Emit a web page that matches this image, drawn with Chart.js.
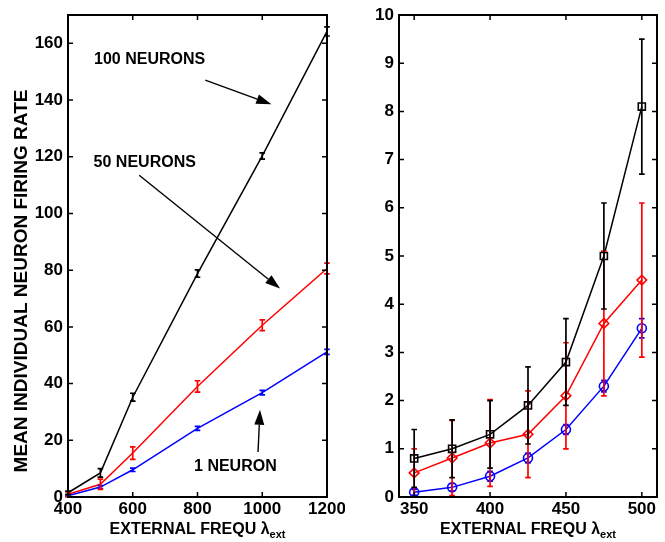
<!DOCTYPE html>
<html>
<head>
<meta charset="utf-8">
<script src="https://cdn.jsdelivr.net/npm/chart.js@4/dist/chart.umd.min.js"></script>
<style>
  html, body { margin: 0; padding: 0; background: #fff; }
  #wrap { position: relative; width: 665px; height: 542px; }
  canvas { position: absolute; top: 0; }
</style>
</head>
<body>
<div id="wrap">
  <canvas id="wideChart" width="345" height="542" style="left:0"></canvas>
  <canvas id="lowChart" width="320" height="542" style="left:345px"></canvas>
</div>
<script>
// Left panel: firing rate over the full frequency range
const freqWide = [400, 500, 600, 800, 1000, 1200];
const rate100 = [1.5, 8.5, 35.2, 78.8, 120.3, 164.2];
const err100 = [0.6, 1.5, 1.4, 1.3, 1.1, 1.6];
const rate50 = [1.0, 4.5, 15.5, 39.0, 60.6, 80.6];
const err50 = [0.8, 1.8, 2.2, 2.0, 1.9, 1.9];
const rate1 = [0.4, 3.5, 9.6, 24.2, 36.8, 51.2];
const err1 = [0.3, 0.5, 0.6, 0.7, 0.8, 0.9];
const xTicksWide = [400, 600, 800, 1000, 1200];
const yTicksWide = [0, 20, 40, 60, 80, 100, 120, 140, 160];

// Right panel: zoom on the low frequency end
const freqLow = [350, 375, 400, 425, 450, 475, 500];
const low100 = [0.8, 1.0, 1.3, 1.9, 2.8, 5.0, 8.1];
const lowErr100 = [0.6, 0.6, 0.7, 0.8, 0.9, 1.1, 1.4];
const low50 = [0.5, 0.81, 1.12, 1.3, 2.1, 3.6, 4.5];
const lowErr50 = [0.5, 0.78, 0.9, 0.9, 1.1, 1.5, 1.6];
const low1 = [0.1, 0.2, 0.43, 0.81, 1.4, 2.3, 3.5];
const lowErr1 = [0.06, 0.08, 0.1, 0.1, 0.1, 0.12, 0.2];
const xTicksLow = [350, 400, 450, 500];
const yTicksLow = [0, 1, 2, 3, 4, 5, 6, 7, 8, 9, 10];

const seriesNames = ['100 NEURONS', '50 NEURONS', '1 NEURON'];

// text labels with arrows, placed in data units of the left panel
const notes = [
  { text: seriesNames[0], at: [652, 154.4], from: [824, 147.0], to: [1028, 138.5] },
  { text: seriesNames[1], at: [637, 117.9], from: [620, 113.5], to: [1055, 73.5] },
  { text: seriesNames[2], at: [917, 10.8], from: [987, 15.9], to: [993, 30.8] }
];

const FONT = '"Liberation Sans", Arial, Helvetica, sans-serif';
const tickFont = { family: FONT, size: 17, weight: 'bold' };

function toPoints(xs, ys) {
  return xs.map((x, i) => ({ x: x, y: ys[i] }));
}

// box around the plot area with inward ticks on all four sides
function framePlugin(xTicks, yTicks) {
  return {
    id: 'frame',
    afterDraw(chart) {
      const { ctx, chartArea: a, scales: { x, y } } = chart;
      const t = 5;
      ctx.save();
      ctx.strokeStyle = '#000';
      ctx.lineWidth = 1.5;
      ctx.beginPath();
      xTicks.forEach(v => {
        const px = x.getPixelForValue(v);
        ctx.moveTo(px, a.bottom); ctx.lineTo(px, a.bottom - t);
        ctx.moveTo(px, a.top); ctx.lineTo(px, a.top + t);
      });
      yTicks.forEach(v => {
        const py = y.getPixelForValue(v);
        ctx.moveTo(a.left, py); ctx.lineTo(a.left + t, py);
        ctx.moveTo(a.right, py); ctx.lineTo(a.right - t, py);
      });
      ctx.stroke();
      ctx.lineWidth = 2;
      ctx.strokeRect(a.left, a.top, a.right - a.left, a.bottom - a.top);
      ctx.restore();
    }
  };
}

// vertical error bars with small caps, from each dataset's errors array
const errorBarPlugin = {
  id: 'errorBars',
  afterDatasetsDraw(chart) {
    const { ctx, scales: { x, y } } = chart;
    const order = chart.options.errorOrder || chart.data.datasets.map((d, i) => i);
    ctx.save();
    order.forEach(di => {
      const ds = chart.data.datasets[di];
      ctx.strokeStyle = ds.borderColor;
      ctx.lineWidth = 1.7;
      ctx.beginPath();
      ds.data.forEach((p, i) => {
        const e = ds.errors[i];
        const px = x.getPixelForValue(p.x);
        const top = y.getPixelForValue(p.y + e);
        const bot = y.getPixelForValue(Math.max(p.y - e, 0));
        ctx.moveTo(px, top); ctx.lineTo(px, bot);
        ctx.moveTo(px - 2.8, top); ctx.lineTo(px + 2.8, top);
        ctx.moveTo(px - 2.8, bot); ctx.lineTo(px + 2.8, bot);
      });
      ctx.stroke();
    });
    ctx.restore();
  }
};

// x title with subscripted lambda, y title rotated
function titlePlugin(showY) {
  return {
    id: 'titles',
    afterDraw(chart) {
      const { ctx, chartArea: a } = chart;
      ctx.save();
      ctx.fillStyle = '#000';
      const main = 'EXTERNAL FREQU ';
      ctx.font = 'bold 16px ' + FONT;
      const w1 = ctx.measureText(main).width;
      const w2 = ctx.measureText('\u03bb').width;
      ctx.font = 'bold 11px ' + FONT;
      const w3 = ctx.measureText('ext').width;
      let x0 = (a.left + a.right) / 2 - (w1 + w2 + w3) / 2;
      const base = a.bottom + 37;
      ctx.textBaseline = 'alphabetic';
      ctx.textAlign = 'left';
      ctx.font = 'bold 16px ' + FONT;
      ctx.fillText(main, x0, base);
      ctx.fillText('\u03bb', x0 + w1, base);
      ctx.font = 'bold 11px ' + FONT;
      ctx.fillText('ext', x0 + w1 + w2, base + 4);
      if (showY) {
        ctx.translate(22, 281);
        ctx.rotate(-Math.PI / 2);
        ctx.textAlign = 'center';
        ctx.textBaseline = 'middle';
        ctx.font = 'bold 19px ' + FONT;
        ctx.fillText('MEAN INDIVIDUAL NEURON FIRING RATE', 0, 0);
      }
      ctx.restore();
    }
  };
}

// labelled arrows pointing at the curves
const notesPlugin = {
  id: 'notes',
  afterDraw(chart) {
    const { ctx, scales: { x, y } } = chart;
    ctx.save();
    ctx.fillStyle = '#000';
    ctx.strokeStyle = '#000';
    ctx.font = 'bold 16px ' + FONT;
    ctx.textAlign = 'center';
    ctx.textBaseline = 'middle';
    notes.forEach(n => {
      ctx.fillText(n.text, x.getPixelForValue(n.at[0]), y.getPixelForValue(n.at[1]));
      const x1 = x.getPixelForValue(n.from[0]), y1 = y.getPixelForValue(n.from[1]);
      const x2 = x.getPixelForValue(n.to[0]), y2 = y.getPixelForValue(n.to[1]);
      const ang = Math.atan2(y2 - y1, x2 - x1);
      const len = 15, half = 5;
      const bx = x2 - len * Math.cos(ang), by = y2 - len * Math.sin(ang);
      ctx.lineWidth = 1.4;
      ctx.beginPath();
      ctx.moveTo(x1, y1); ctx.lineTo(bx, by);
      ctx.stroke();
      ctx.beginPath();
      ctx.moveTo(x2, y2);
      ctx.lineTo(bx + half * Math.sin(ang), by - half * Math.cos(ang));
      ctx.lineTo(bx - half * Math.sin(ang), by + half * Math.cos(ang));
      ctx.closePath();
      ctx.fill();
    });
    ctx.restore();
  }
};

function makeOptions(xMin, xMax, yMax, xTicks, yTicks, axisWidth, padRight) {
  return {
    responsive: false,
    animation: false,
    layout: { padding: { left: 0, right: padRight, top: 15, bottom: 0 } },
    plugins: { legend: { display: false }, tooltip: { enabled: false } },
    scales: {
      x: {
        type: 'linear', min: xMin, max: xMax,
        grid: { display: false, drawTicks: false },
        border: { display: false },
        ticks: { font: tickFont, color: '#000', padding: 2, maxRotation: 0, autoSkip: false,
                 callback: v => String(v) },
        afterBuildTicks: s => { s.ticks = xTicks.map(v => ({ value: v })); },
        afterFit: s => { s.height = 45; s.paddingLeft = 0; s.paddingRight = 0; }
      },
      y: {
        type: 'linear', min: 0, max: yMax,
        grid: { display: false, drawTicks: false },
        border: { display: false },
        ticks: { font: tickFont, color: '#000', padding: 5, autoSkip: false,
                 callback: v => String(v) },
        afterBuildTicks: s => { s.ticks = yTicks.map(v => ({ value: v })); },
        afterFit: s => { s.width = axisWidth; s.paddingTop = 0; s.paddingBottom = 0; }
      }
    }
  };
}

function lineSet(color, xs, ys, errs, marker, size) {
  return {
    data: toPoints(xs, ys),
    errors: errs,
    borderColor: color,
    borderWidth: 1.5,
    pointStyle: marker || 'circle',
    pointRadius: marker ? size : 0,
    pointBorderColor: color,
    pointBackgroundColor: 'rgba(0,0,0,0)',
    pointBorderWidth: 1.6,
    tension: 0
  };
}

new Chart(document.getElementById('wideChart'), {
  type: 'line',
  data: {
    datasets: [
      lineSet('#0000ff', freqWide, rate1, err1),
      lineSet('#ff0000', freqWide, rate50, err50),
      lineSet('#000000', freqWide, rate100, err100)
    ]
  },
  options: makeOptions(400, 1200, 170, xTicksWide, yTicksWide, 68, 18),
  plugins: [errorBarPlugin, framePlugin(xTicksWide, yTicksWide), titlePlugin(true), notesPlugin]
});

const lowOptions = makeOptions(340, 510, 10, xTicksLow, yTicksLow, 54, 8);
lowOptions.errorOrder = [0, 1, 2];
new Chart(document.getElementById('lowChart'), {
  type: 'line',
  data: {
    datasets: [
      lineSet('#0000ff', freqLow, low1, lowErr1, 'circle', 4.5),
      lineSet('#ff0000', freqLow, low50, lowErr50, 'rectRot', 4.8),
      lineSet('#000000', freqLow, low100, lowErr100, 'rect', 5)
    ]
  },
  options: lowOptions,
  plugins: [errorBarPlugin, framePlugin(xTicksLow, yTicksLow), titlePlugin(false)]
});
</script>
</body>
</html>
